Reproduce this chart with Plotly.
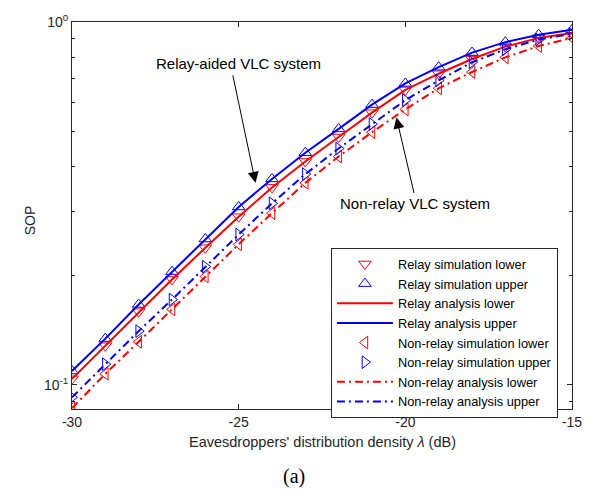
import plotly.graph_objects as go

x_db = [-30, -29, -28, -27, -26, -25, -24, -23, -22, -21, -20, -19, -18, -17, -16, -15]

relay_upper = [0.1091, 0.1340, 0.1664, 0.2050, 0.2522, 0.3091, 0.3692, 0.4362,
               0.5072, 0.5920, 0.6771, 0.7507, 0.8236, 0.8798, 0.9227, 0.9517]
relay_lower = [0.1038, 0.1281, 0.1590, 0.1951, 0.2385, 0.2905, 0.3499, 0.4126,
               0.4817, 0.5623, 0.6497, 0.7201, 0.7904, 0.8552, 0.9040, 0.9324]
nonrelay_upper = [0.0923, 0.1139, 0.1405, 0.1717, 0.2115, 0.2594, 0.3162, 0.3808,
                  0.4479, 0.5232, 0.6090, 0.6900, 0.7745, 0.8410, 0.8946, 0.9284]
nonrelay_lower = [0.0862, 0.1071, 0.1313, 0.1613, 0.1988, 0.2438, 0.2972, 0.3601,
                  0.4256, 0.4969, 0.5741, 0.6566, 0.7280, 0.7990, 0.8583, 0.9040]

sim_relay_lower = relay_lower
sim_relay_upper = relay_upper
sim_nonrelay_lower = nonrelay_lower
sim_nonrelay_upper = nonrelay_upper

x_ticks = [-30, -25, -20, -15]
x_ticklabels = ["-30", "-25", "-20", "-15"]
y_ticks = [0.1, 1]
y_ticklabels = ["10<sup>-1</sup>", "10<sup>0</sup>"]

RED = "#ff0000"
BLUE = "#0000ff"
AX = "#262626"
msize = 11
dd = "8px,4px,2px,4px"

fig = go.Figure()
fig.add_trace(go.Scatter(x=x_db, y=sim_relay_lower, mode="markers", name="Relay simulation lower",
                         marker=dict(symbol="triangle-down-open", size=msize, color=RED, line=dict(width=1))))
fig.add_trace(go.Scatter(x=x_db, y=sim_relay_upper, mode="markers", name="Relay simulation upper",
                         marker=dict(symbol="triangle-up-open", size=msize, color=BLUE, line=dict(width=1))))
fig.add_trace(go.Scatter(x=x_db, y=relay_lower, mode="lines", name="Relay analysis lower",
                         line=dict(color=RED, width=2)))
fig.add_trace(go.Scatter(x=x_db, y=relay_upper, mode="lines", name="Relay analysis upper",
                         line=dict(color=BLUE, width=2)))
fig.add_trace(go.Scatter(x=x_db, y=sim_nonrelay_lower, mode="markers", name="Non-relay simulation lower",
                         marker=dict(symbol="triangle-left-open", size=msize, color=RED, line=dict(width=1))))
fig.add_trace(go.Scatter(x=x_db, y=sim_nonrelay_upper, mode="markers", name="Non-relay simulation upper",
                         marker=dict(symbol="triangle-right-open", size=msize, color=BLUE, line=dict(width=1))))
fig.add_trace(go.Scatter(x=x_db, y=nonrelay_lower, mode="lines", name="Non-relay analysis lower",
                         line=dict(color=RED, width=2, dash=dd)))
fig.add_trace(go.Scatter(x=x_db, y=nonrelay_upper, mode="lines", name="Non-relay analysis upper",
                         line=dict(color=BLUE, width=2, dash=dd)))

W, H = 594, 495
L, R, T, B = 72, 576, 12, 409
def px(xp):
    return (xp - L) / (R - L)
def py(yp):
    return (B - yp) / (B - T)

font_main = "Liberation Sans, Arial, sans-serif"

fig.update_layout(
    width=W, height=H,
    margin=dict(l=L, r=W - R, t=T, b=H - B),
    paper_bgcolor="white", plot_bgcolor="white",
    font=dict(family=font_main, size=14, color=AX),
    showlegend=True,
    legend=dict(x=px(333), y=py(244), xanchor="left", yanchor="top",
                bgcolor="white", bordercolor=AX, borderwidth=1,
                font=dict(size=12.8, color="black"), tracegroupgap=0,
                itemwidth=56),
    xaxis=dict(range=[-30, -15], tickvals=x_ticks, ticktext=x_ticklabels,
               ticks="inside", ticklen=5, tickcolor=AX, showline=True, linecolor=AX,
               linewidth=1, mirror="allticks", showgrid=False, zeroline=False,
               tickfont=dict(size=14, color=AX)),
    yaxis=dict(type="log", range=[-1.067, 0], tickvals=y_ticks, ticktext=y_ticklabels,
               ticks="inside", ticklen=5, tickcolor=AX, showline=True, linecolor=AX,
               linewidth=1, mirror="allticks", showgrid=False, zeroline=False,
               tickfont=dict(size=14, color=AX),
               minor=dict(ticks="inside", ticklen=3, tickcolor=AX,
                          tickvals=[0.09, 0.2, 0.3, 0.4, 0.5, 0.6, 0.7, 0.8, 0.9], showgrid=False)),
)

ann = []
ann.append(dict(text="SOP", x=px(30), y=py(215), xref="paper", yref="paper", showarrow=False,
                textangle=-90, font=dict(size=14, color=AX), xanchor="center", yanchor="middle"))
ann.append(dict(text="Eavesdroppers' distribution density <i>λ</i> (dB)", x=px(324), y=py(443),
                xref="paper", yref="paper", showarrow=False, font=dict(size=14.5, color=AX),
                xanchor="center", yanchor="middle"))
ann.append(dict(text="(a)", x=px(296), y=py(478), xref="paper", yref="paper", showarrow=False,
                font=dict(size=20, color="black", family="Liberation Serif, Times New Roman, serif"),
                xanchor="center", yanchor="middle"))
ann.append(dict(text="Relay-aided VLC system", x=px(240), y=py(55), xref="paper", yref="paper",
                showarrow=False, font=dict(size=15, color="black"), xanchor="center", yanchor="middle"))
ann.append(dict(text="Non-relay VLC system", x=px(418), y=py(198), xref="paper", yref="paper",
                showarrow=False, font=dict(size=15, color="black"), xanchor="center", yanchor="middle"))
ann.append(dict(text="", x=px(257), y=py(177), xref="paper", yref="paper",
                ax=234 - 257, ay=68 - 177, axref="pixel", ayref="pixel",
                showarrow=True, arrowhead=2, arrowsize=2.2, arrowwidth=1, arrowcolor="black"))
ann.append(dict(text="", x=px(399), y=py(110), xref="paper", yref="paper",
                ax=417 - 399, ay=187 - 110, axref="pixel", ayref="pixel",
                showarrow=True, arrowhead=2, arrowsize=2.2, arrowwidth=1, arrowcolor="black"))
fig.update_layout(annotations=ann)

fig.write_html("out.html")
